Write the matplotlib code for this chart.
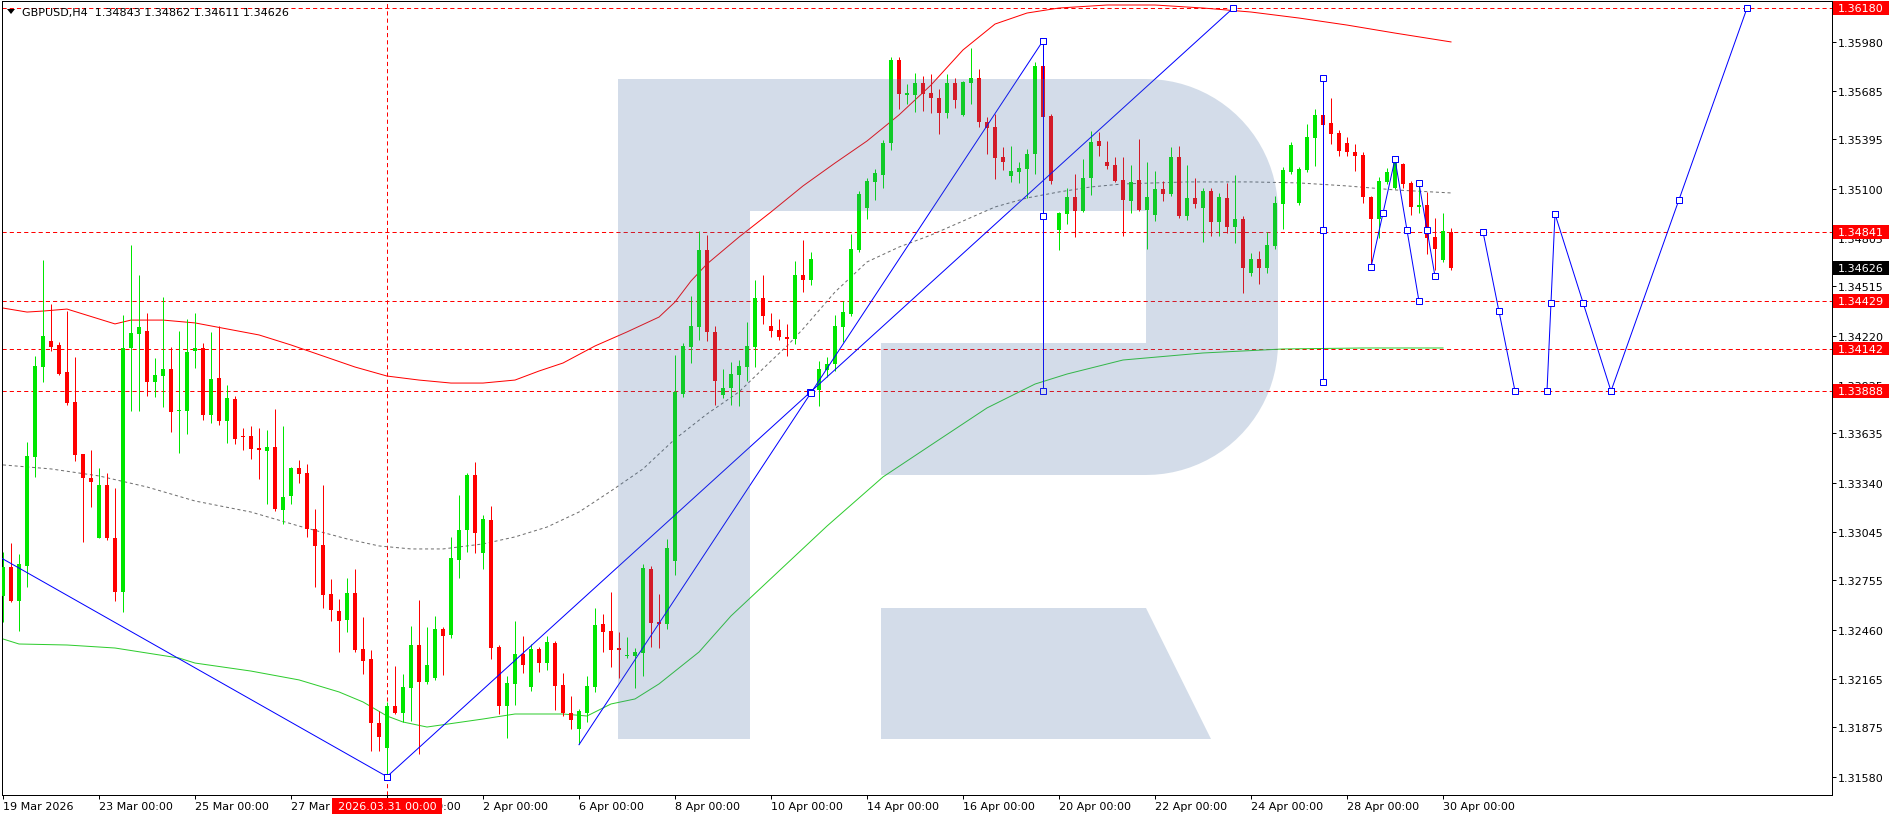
import matplotlib
matplotlib.use("Agg")
import matplotlib.pyplot as plt
import matplotlib.transforms as mtransforms
from matplotlib.patches import Polygon, Rectangle
import numpy as np

plt.rcParams['font.family'] = ['DejaVu Sans']
plt.rcParams['lines.scale_dashes'] = False

# ---------------- data ----------------
title_text = "GBPUSD,H4  1.34843 1.34862 1.34611 1.34626"

open_prices = [
    1.32661, 1.32835, 1.32631, 1.32841, 1.33493, 1.34032, 1.34188, 1.34164, 1.34002, 1.33823,
    1.33511, 1.33368, 1.33009, 1.33326, 1.33009, 1.32685, 1.34146, 1.34230, 1.34248, 1.33942,
    1.33978, 1.34020, 1.33769, 1.33769, 1.34128, 1.34146, 1.33745, 1.33966, 1.33709, 1.33841,
    1.33619, 1.33619, 1.33547, 1.33529, 1.33553, 1.33176, 1.33260, 1.33428, 1.33398, 1.33062,
    1.32967, 1.32673, 1.32572, 1.32518, 1.32679, 1.32344, 1.32284, 1.31901, 1.31751, 1.32003,
    1.31961, 1.32111, 1.32368, 1.32147, 1.32171, 1.32464, 1.32428, 1.32877, 1.33056, 1.33386,
    1.32919, 1.33116, 1.32356, 1.32003, 1.32135, 1.32314, 1.32117, 1.32344, 1.32260, 1.32380,
    1.32129, 1.31961, 1.31865, 1.31961, 1.32117, 1.32494, 1.32452, 1.32350, 1.32302, 1.32302,
    1.32320, 1.32823, 1.32506, 1.32494, 1.32871, 1.33871, 1.34152, 1.34272, 1.34733, 1.34242,
    1.33865, 1.33906, 1.33984, 1.34032, 1.34152, 1.34445, 1.34278, 1.34254, 1.34212, 1.34200,
    1.34583, 1.34553, 1.33894, 1.34014, 1.34050, 1.34272, 1.34349, 1.34733, 1.34984, 1.35140,
    1.35181, 1.35373, 1.35870, 1.35660, 1.35660, 1.35732, 1.35672, 1.35642, 1.35553, 1.35732,
    1.35541, 1.35732, 1.35762, 1.35499, 1.35469, 1.35289, 1.35175, 1.35199, 1.35217, 1.35307,
    1.35834, 1.35535, 1.34852, 1.34948, 1.35050, 1.34966, 1.35164, 1.35385, 1.35259, 1.35241,
    1.35152, 1.35026, 1.35152, 1.34972, 1.34942, 1.35098, 1.35068, 1.35289, 1.34936, 1.35044,
    1.34984, 1.35086, 1.34900, 1.35044, 1.34870, 1.34918, 1.34595, 1.34679, 1.34625, 1.34756,
    1.35008, 1.35199, 1.35014, 1.35211, 1.35403, 1.35541, 1.35493, 1.35433, 1.35373, 1.35319,
    1.35301, 1.35050, 1.34918, 1.35140, 1.35104, 1.35247, 1.35134, 1.34990, 1.35002, 1.34810,
    1.34673, 1.34843]

high_prices = [
    1.32925, 1.32979, 1.32913, 1.33583, 1.34098, 1.34673, 1.34409, 1.34182, 1.34367, 1.34092,
    1.33511, 1.33535, 1.33428, 1.33398, 1.33308, 1.34343, 1.34762, 1.34583, 1.34355, 1.34086,
    1.34451, 1.34152, 1.34248, 1.34319, 1.34355, 1.34176, 1.34242, 1.34278, 1.33924, 1.33859,
    1.33667, 1.33679, 1.33667, 1.33655, 1.33781, 1.33679, 1.33434, 1.33475, 1.33452, 1.33182,
    1.33326, 1.32763, 1.32643, 1.32769, 1.32823, 1.32536, 1.32338, 1.31973, 1.32027, 1.32242,
    1.32194, 1.32482, 1.32637, 1.32476, 1.32542, 1.32476, 1.33015, 1.33266, 1.33398, 1.33463,
    1.33146, 1.33200, 1.32368, 1.32182, 1.32512, 1.32422, 1.32374, 1.32356, 1.32422, 1.32392,
    1.32200, 1.32063, 1.31985, 1.32182, 1.32590, 1.32554, 1.32685, 1.32446, 1.32416, 1.32350,
    1.32853, 1.32841, 1.32673, 1.33003, 1.34104, 1.34176, 1.34457, 1.34846, 1.34822, 1.34278,
    1.34020, 1.34062, 1.34074, 1.34302, 1.34553, 1.34583, 1.34355, 1.34319, 1.34290, 1.34667,
    1.34792, 1.34721, 1.34068, 1.34092, 1.34343, 1.34427, 1.34828, 1.35086, 1.35164, 1.35217,
    1.35391, 1.35888, 1.35888, 1.35726, 1.35792, 1.35774, 1.35786, 1.35696, 1.35786, 1.35762,
    1.35744, 1.35942, 1.35816, 1.35529, 1.35547, 1.35349, 1.35355, 1.35259, 1.35337, 1.35858,
    1.35858, 1.35547, 1.34960, 1.35104, 1.35187, 1.35277, 1.35445, 1.35439, 1.35385, 1.35289,
    1.35289, 1.35241, 1.35397, 1.35259, 1.35205, 1.35146, 1.35349, 1.35355, 1.35241, 1.35164,
    1.35104, 1.35104, 1.35074, 1.35134, 1.35181, 1.34936, 1.34715, 1.34727, 1.34840, 1.35056,
    1.35229, 1.35379, 1.35229, 1.35487, 1.35577, 1.35565, 1.35642, 1.35451, 1.35409, 1.35367,
    1.35319, 1.35056, 1.35170, 1.35223, 1.35283, 1.35253, 1.35146, 1.35140, 1.35080, 1.34924,
    1.34954, 1.34862]

low_prices = [
    1.32506, 1.32625, 1.32452, 1.32715, 1.33374, 1.33942, 1.34128, 1.33984, 1.33805, 1.33469,
    1.32985, 1.33194, 1.33009, 1.32997, 1.32631, 1.32566, 1.33769, 1.33769, 1.33859, 1.33853,
    1.33793, 1.33643, 1.33517, 1.33631, 1.34026, 1.33715, 1.33697, 1.33685, 1.33577, 1.33571,
    1.33535, 1.33481, 1.33362, 1.33212, 1.33170, 1.33092, 1.33212, 1.33338, 1.33015, 1.32715,
    1.32590, 1.32512, 1.32326, 1.32446, 1.32326, 1.32194, 1.31734, 1.31734, 1.31580, 1.31955,
    1.31907, 1.31913, 1.31716, 1.32135, 1.32159, 1.32188, 1.32410, 1.32769, 1.32925, 1.32919,
    1.32823, 1.32284, 1.31955, 1.31811, 1.32009, 1.32200, 1.32093, 1.32206, 1.32218, 1.31979,
    1.31943, 1.31865, 1.31775, 1.31907, 1.32087, 1.32326, 1.32236, 1.32171, 1.32290, 1.32111,
    1.32182, 1.32356, 1.32350, 1.32464, 1.32787, 1.33853, 1.34056, 1.34194, 1.34188, 1.33805,
    1.33847, 1.33805, 1.33799, 1.33948, 1.34032, 1.34290, 1.34212, 1.34194, 1.34098, 1.34170,
    1.34481, 1.34523, 1.33799, 1.33972, 1.34008, 1.34182, 1.34337, 1.34721, 1.34918, 1.35032,
    1.35104, 1.35331, 1.35577, 1.35606, 1.35559, 1.35565, 1.35553, 1.35427, 1.35523, 1.35583,
    1.35535, 1.35606, 1.35469, 1.35307, 1.35158, 1.35211, 1.35140, 1.35134, 1.35044, 1.35187,
    1.35487, 1.35128, 1.34733, 1.34888, 1.34810, 1.34960, 1.35062, 1.35295, 1.35217, 1.35140,
    1.34816, 1.34954, 1.34966, 1.34739, 1.34906, 1.35026, 1.35056, 1.34924, 1.34912, 1.34984,
    1.34780, 1.34816, 1.34816, 1.34834, 1.34774, 1.34475, 1.34577, 1.34529, 1.34595, 1.34739,
    1.34858, 1.35187, 1.35002, 1.35199, 1.35235, 1.35457, 1.35367, 1.35295, 1.35295, 1.35205,
    1.35014, 1.34643, 1.34804, 1.35128, 1.35098, 1.35104, 1.34942, 1.34954, 1.34709, 1.34613,
    1.34661, 1.34611]

close_prices = [
    1.32835, 1.32631, 1.32853, 1.33499, 1.34038, 1.34218, 1.34152, 1.33990, 1.33817, 1.33505,
    1.33368, 1.33344, 1.33326, 1.33009, 1.32685, 1.34146, 1.34236, 1.34272, 1.33942, 1.33984,
    1.34020, 1.33763, 1.33775, 1.34122, 1.34146, 1.33745, 1.33960, 1.33709, 1.33847, 1.33601,
    1.33613, 1.33541, 1.33535, 1.33553, 1.33182, 1.33254, 1.33428, 1.33392, 1.33062, 1.32961,
    1.32667, 1.32578, 1.32512, 1.32679, 1.32338, 1.32272, 1.31901, 1.31817, 1.32003, 1.31961,
    1.32117, 1.32368, 1.32147, 1.32248, 1.32464, 1.32422, 1.32889, 1.33056, 1.33386, 1.33038,
    1.33122, 1.32350, 1.32003, 1.32141, 1.32314, 1.32248, 1.32344, 1.32260, 1.32386, 1.32123,
    1.31961, 1.31919, 1.31973, 1.32123, 1.32488, 1.32446, 1.32338, 1.32338, 1.32308, 1.32326,
    1.32829, 1.32500, 1.32494, 1.32949, 1.33883, 1.34158, 1.34278, 1.34733, 1.34242, 1.33948,
    1.33906, 1.33990, 1.34038, 1.34158, 1.34445, 1.34337, 1.34248, 1.34212, 1.34200, 1.34583,
    1.34553, 1.34679, 1.34020, 1.34050, 1.34278, 1.34361, 1.34739, 1.35068, 1.35146, 1.35193,
    1.35373, 1.35870, 1.35666, 1.35672, 1.35732, 1.35666, 1.35642, 1.35553, 1.35732, 1.35630,
    1.35738, 1.35762, 1.35499, 1.35463, 1.35283, 1.35259, 1.35205, 1.35223, 1.35307, 1.35834,
    1.35529, 1.35146, 1.34954, 1.35050, 1.34966, 1.35164, 1.35379, 1.35355, 1.35235, 1.35146,
    1.35032, 1.35140, 1.34972, 1.35050, 1.35098, 1.35068, 1.35289, 1.34936, 1.35044, 1.35008,
    1.35086, 1.34900, 1.35050, 1.34870, 1.34918, 1.34625, 1.34679, 1.34625, 1.34762, 1.35014,
    1.35211, 1.35361, 1.35217, 1.35409, 1.35541, 1.35481, 1.35427, 1.35325, 1.35319, 1.35295,
    1.35050, 1.34918, 1.35146, 1.35199, 1.35277, 1.35128, 1.34990, 1.35002, 1.34804, 1.34739,
    1.34846, 1.34626]

# moving-average style curves (bar index, price)
upper_bars = [0, 3, 5, 8, 14, 16, 20, 24, 28, 32, 36, 40, 44, 48, 52, 56, 60, 64, 67, 70,
              74, 78, 82, 84, 86, 88, 92, 96, 100, 104, 108, 112, 116, 120, 124, 128, 132,
              138, 144, 150, 156, 162, 168, 174, 181]
upper_vals = [1.34385, 1.34361, 1.34367, 1.34379, 1.34290, 1.34313, 1.34313, 1.34296, 1.34260,
              1.34224, 1.34164, 1.34098, 1.34032, 1.33978, 1.33954, 1.33936, 1.33936, 1.33954,
              1.34008, 1.34056, 1.34158, 1.34242, 1.34331, 1.34421, 1.34547, 1.34649, 1.34810,
              1.34960, 1.35116, 1.35253, 1.35385, 1.35541, 1.35720, 1.35930, 1.36085, 1.36151,
              1.36181, 1.36199, 1.36199, 1.36181, 1.36157, 1.36121, 1.36079, 1.36031, 1.35978]

middle_bars = [0, 6, 12, 18, 24, 31, 37, 43, 47, 51, 55, 60, 64, 68, 72, 76, 80, 84, 88, 92,
               96, 98, 100, 104, 108, 112, 116, 120, 124, 128, 132, 136, 140, 148, 156, 162,
               168, 174, 181]
middle_vals = [1.33446, 1.33422, 1.33380, 1.33314, 1.33230, 1.33164, 1.33080, 1.33003, 1.32961,
               1.32943, 1.32943, 1.32973, 1.33015, 1.33074, 1.33164, 1.33290, 1.33422, 1.33601,
               1.33751, 1.33883, 1.34068, 1.34158, 1.34260, 1.34481, 1.34661, 1.34750, 1.34822,
               1.34906, 1.34990, 1.35044, 1.35080, 1.35110, 1.35128, 1.35140, 1.35140, 1.35134,
               1.35116, 1.35092, 1.35074]

lower_bars = [0, 2, 8, 14, 22, 24, 31, 37, 42, 45, 48, 50, 53, 60, 64, 70, 73, 76, 79, 82,
              87, 91, 97, 103, 110, 116, 123, 129, 133, 140, 150, 160, 170, 180]
lower_vals = [1.32404, 1.32374, 1.32368, 1.32350, 1.32290, 1.32260, 1.32212, 1.32159, 1.32087,
              1.32027, 1.31943, 1.31907, 1.31877, 1.31925, 1.31955, 1.31955, 1.31943, 1.32015,
              1.32045, 1.32135, 1.32326, 1.32542, 1.32811, 1.33080, 1.33374, 1.33565, 1.33787,
              1.33930, 1.33990, 1.34074, 1.34116, 1.34140, 1.34146, 1.34146]

# trend / forecast segments: start bar, start price, end bar, end price
seg_x0 = [-1, 48, 72, 130, 165, 171, 174, 177, 185, 193, 194, 201]
seg_y0 = [1.32910, 1.31580, 1.31771, 1.35985, 1.35760, 1.34629, 1.35277, 1.35132,
          1.34841, 1.33888, 1.34948, 1.33888]
seg_x1 = [48, 153.75, 130, 130, 165, 174, 177, 179, 189, 194, 201, 218]
seg_y1 = [1.31580, 1.36180, 1.35985, 1.33888, 1.33942, 1.35277, 1.34425, 1.34575,
          1.33888, 1.34948, 1.33888, 1.36180]
seg_start_mark = [False, True, False, True, True, True, True, True, True, True, True, True]
seg_mid_mark = [False, True, True, True, True, True, True, True, True, True, True, True]

level_prices = [1.36180, 1.34841, 1.34429, 1.34142, 1.33888]
last_price = 1.34626
marker_bar = 48
marker_label = "2026.03.31 00:00"

price_ticks = [1.35980, 1.35685, 1.35395, 1.35100, 1.34805, 1.34515, 1.34220, 1.33925,
               1.33635, 1.33340, 1.33045, 1.32755, 1.32460, 1.32165, 1.31875, 1.31580]

date_ticks = [0, 12, 24, 36, 48, 60, 72, 84, 96, 108, 120, 132, 144, 156, 168, 180]
date_labels = ["19 Mar 2026", "23 Mar 00:00", "25 Mar 00:00", "27 Mar 00:00", "31 Mar 00:00",
               "2 Apr 00:00", "6 Apr 00:00", "8 Apr 00:00", "10 Apr 00:00", "14 Apr 00:00",
               "16 Apr 00:00", "20 Apr 00:00", "22 Apr 00:00", "24 Apr 00:00", "28 Apr 00:00",
               "30 Apr 00:00"]

# ---------------- figure ----------------
W, H = 1895, 820
fig = plt.figure(figsize=(W / 100, H / 100), dpi=100)
fig.patch.set_facecolor('white')

AX_L, AX_R, AX_T, AX_B = 2, 1832, 2, 796
ax = fig.add_axes([AX_L / W, 1 - AX_B / H, (AX_R - AX_L) / W, (AX_B - AX_T) / H])
ax.set_facecolor('white')
ax.set_xlim(-0.125, 228.625)
ax.set_ylim(1.314701, 1.362230)

PX = 0.72  # one pixel in points
UP = '#00e600'
DN = '#ff0000'

px_top = mtransforms.Affine2D().scale(1 / W, -1 / H).translate(0, 1) + fig.transFigure
blend_xdata = mtransforms.blended_transform_factory(ax.transData, px_top)
blend_ydata = mtransforms.blended_transform_factory(px_top, ax.transData)

# candles
n = len(open_prices)
bars = np.arange(n)
o = np.array(open_prices); h = np.array(high_prices)
l = np.array(low_prices); c = np.array(close_prices)
up = c >= o
cols = np.where(up, UP, DN)
ax.vlines(bars, l, h, colors=cols, linewidth=PX, zorder=3)
body_lo = np.minimum(o, c)
body_h = np.maximum(np.abs(c - o), 0.00007)
ax.bar(bars, body_h, bottom=body_lo, width=0.62, color=cols, linewidth=0, zorder=3.5)

# curves
ax.plot(upper_bars, upper_vals, color='#ff0000', lw=PX, zorder=2.5)
ax.plot(lower_bars, lower_vals, color='#2ecc2e', lw=PX, zorder=2.5)
ax.plot(middle_bars, middle_vals, color='#6e6e6e', lw=PX, dashes=(2.2, 2.0), zorder=2.5)

# horizontal levels and vertical date marker
for lv in level_prices:
    ax.axhline(lv, color='#ff0000', lw=PX, dashes=(3.0, 2.2), zorder=2)
ax.axvline(marker_bar, color='#ff0000', lw=PX, dashes=(3.0, 2.2), zorder=2)

# trend / forecast lines
for i in range(len(seg_x0)):
    ax.plot([seg_x0[i], seg_x1[i]], [seg_y0[i], seg_y1[i]], color='#0000ff', lw=PX, zorder=4)
    pts = [(seg_x1[i], seg_y1[i])]
    if seg_start_mark[i]:
        pts.append((seg_x0[i], seg_y0[i]))
    if seg_mid_mark[i]:
        pts.append(((seg_x0[i] + seg_x1[i]) / 2, (seg_y0[i] + seg_y1[i]) / 2))
    for (px_, py_) in pts:
        ax.plot([px_], [py_], marker='s', ms=4.2, mfc='white', mec='#0000ff', mew=PX,
                zorder=4.5, clip_on=True)

# watermark logo (decoration, pixel coordinates)
def arc(cx, cy, r, a0, a1, npts=24):
    t = np.radians(np.linspace(a0, a1, npts))
    return [(cx + r * np.cos(a), cy - r * np.sin(a)) for a in t]

wm_color = (74 / 255, 115 / 255, 165 / 255)
bowl = ([(618, 80)] + arc(1146, 212, 132, 90, 0) + arc(1146, 344, 132, 0, -90) +
        [(881, 476), (881, 344), (1146, 344), (1146, 212), (750, 212), (750, 740), (618, 740)])
leg = [(881, 609), (1146, 609), (1211, 740), (881, 740)]
for verts in (bowl, leg):
    ax.add_patch(Polygon(verts, closed=True, transform=px_top, facecolor=wm_color,
                         edgecolor='none', alpha=0.243, zorder=6))

# axes styling
for s in ax.spines.values():
    s.set_color('black')
    s.set_linewidth(PX)
ax.yaxis.tick_right()
ax.set_yticks(price_ticks)
ax.set_yticklabels([f"{v:.5f}" for v in price_ticks])
ax.tick_params(axis='y', which='both', length=3, width=PX, pad=1.5, labelsize=8,
               colors='black', right=True, left=False)
ax.set_xticks(date_ticks)
ax.set_xticklabels([])
ax.tick_params(axis='x', length=3, width=PX, colors='black')

for b, lab in zip(date_ticks, date_labels):
    ax.text(b, 807, lab, transform=blend_xdata, ha='left', va='center', fontsize=8,
            color='black', clip_on=False)

# date marker label
ax.add_patch(Rectangle((332, 799), 110, 16, transform=px_top, facecolor='#ff0000',
                       edgecolor='none', clip_on=False, zorder=10))
ax.text(387, 807, marker_label, transform=px_top, ha='center', va='center', fontsize=8,
        color='white', clip_on=False, zorder=11)

# right-side price labels
box_h = 0.00082
for lv in level_prices:
    ax.add_patch(Rectangle((1833, lv - box_h / 2), 56, box_h, transform=blend_ydata,
                           facecolor='#ff0000', edgecolor='none', clip_on=False, zorder=10))
    ax.text(1838, lv, f"{lv:.5f}", transform=blend_ydata, ha='left', va='center',
            fontsize=8, color='white', clip_on=False, zorder=11)
ax.add_patch(Rectangle((1833, last_price - box_h / 2), 56, box_h, transform=blend_ydata,
                       facecolor='black', edgecolor='none', clip_on=False, zorder=10))
ax.text(1838, last_price, f"{last_price:.5f}", transform=blend_ydata, ha='left',
        va='center', fontsize=8, color='white', clip_on=False, zorder=11)

# title
ax.add_patch(Polygon([(7, 10), (15, 10), (11, 15)], closed=True, transform=px_top,
                     facecolor='black', edgecolor='none', clip_on=False, zorder=11))
ax.text(22, 13, title_text, transform=px_top, ha='left', va='center', fontsize=8,
        color='black', clip_on=False, zorder=11)

fig.savefig('out.png', dpi=100, facecolor='white')
